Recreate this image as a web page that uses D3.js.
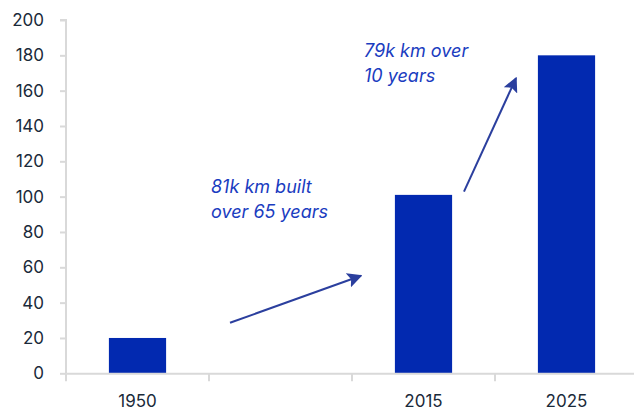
<!DOCTYPE html>
<html>
<head>
<meta charset="utf-8">
<script src="https://cdn.jsdelivr.net/npm/d3@7"></script>
<style>
  html, body { margin: 0; padding: 0; background: #fff; }
  svg { display: block; font-family: "Inter", "Lato", sans-serif; }
</style>
</head>
<body>
<svg id="chart" width="634" height="414"></svg>
<script>
// Network length, thousand km
const categories = ["1950", "", "2015", "2025"];
const values = [20, null, 101, 180];
const yTicks = [0, 20, 40, 60, 80, 100, 120, 140, 160, 180, 200];

// Annotation anchors: category, fraction across that band, value on the y scale
const notes = [
  { lines: ["81k km built", "over 65 years"], cat: "", frac: 0.014, v: 102 },
  { lines: ["79k km over", "10 years"], cat: "2015", frac: 0.084, v: 179 }
];
const arrows = [
  { from: ["", 0.147, 28.6], to: ["2015", 0.063, 55.2] },
  { from: ["2015", 0.783, 102.8], to: ["2025", 0.147, 167.1] }
];

const svg = d3.select("#chart");
const margin = { left: 66, right: -4, top: 20, bottom: 40 };
const W = 634, H = 414;

const x = d3.scaleBand()
  .domain(categories)
  .range([margin.left, W - margin.right])
  .paddingInner(0).paddingOuter(0);

const y = d3.scaleLinear()
  .domain([0, 200])
  .range([H - margin.bottom - 0.7, margin.top]);

const blue = "#0229b0";
const ink = "#1a2a3a";
const grid = "#d9d9d9";
const arrowCol = "#2b3f9e";

// Bars
const barW = x.bandwidth() * 0.4;
svg.append("g").selectAll("rect")
  .data(categories.map((c, i) => ({ c, v: values[i] })).filter(d => d.v != null))
  .join("rect")
  .attr("x", d => x(d.c) + (x.bandwidth() - barW) / 2)
  .attr("width", barW)
  .attr("y", d => y(d.v))
  .attr("height", d => y(0) - y(d.v))
  .attr("fill", blue);

// Y axis
const yAxis = svg.append("g")
  .attr("transform", `translate(${margin.left},0)`)
  .call(d3.axisLeft(y).tickValues(yTicks).tickSize(6).tickPadding(16));
yAxis.select(".domain").attr("stroke", grid).attr("stroke-width", 2).attr("d", `M-6,${y(200)}H0V${y(0)}`);
yAxis.selectAll(".tick line").attr("stroke", grid).attr("stroke-width", 2);
yAxis.selectAll(".tick text").attr("fill", ink).attr("font-size", 17).attr("font-family", "Inter, Lato, sans-serif");

// X axis
const xAxis = svg.append("g")
  .attr("transform", `translate(0,${y(0)})`)
  .call(d3.axisBottom(x).tickSize(0).tickPadding(22));
xAxis.select(".domain").attr("stroke", grid).attr("stroke-width", 2);
xAxis.selectAll(".tick text").attr("fill", ink).attr("font-size", 17).attr("font-family", "Inter, Lato, sans-serif");
// Band boundary ticks
xAxis.append("g").selectAll("line")
  .data(categories)
  .join("line")
  .attr("x1", d => x(d)).attr("x2", d => x(d))
  .attr("y1", 0).attr("y2", 8)
  .attr("stroke", grid).attr("stroke-width", 2);

// Arrows
svg.append("defs").append("marker")
  .attr("id", "head")
  .attr("viewBox", "0 0 10 10")
  .attr("refX", 9).attr("refY", 5)
  .attr("markerWidth", 15).attr("markerHeight", 15)
  .attr("markerUnits", "userSpaceOnUse")
  .attr("orient", "auto")
  .append("path")
  .attr("d", "M0,0L10,5L0,10L2,5Z")
  .attr("fill", arrowCol);

const px = (c, f) => x(c) + f * x.bandwidth();
svg.append("g").selectAll("line")
  .data(arrows)
  .join("line")
  .attr("x1", d => px(d.from[0], d.from[1]))
  .attr("y1", d => y(d.from[2]))
  .attr("x2", d => px(d.to[0], d.to[1]))
  .attr("y2", d => y(d.to[2]))
  .attr("stroke", arrowCol)
  .attr("stroke-width", 2)
  .attr("marker-end", "url(#head)");

// Annotations
const noteG = svg.append("g");
notes.forEach(n => {
  const tx = px(n.cat, n.frac);
  const t = noteG.append("text")
    .attr("x", tx)
    .attr("y", y(n.v))
    .attr("fill", "#1a3cc0")
    .attr("font-size", 18)
    .attr("font-style", "italic");
  n.lines.forEach((l, i) => {
    t.append("tspan").attr("x", tx).attr("dy", i ? 25 : 0).text(l);
  });
});
</script>
</body>
</html>
